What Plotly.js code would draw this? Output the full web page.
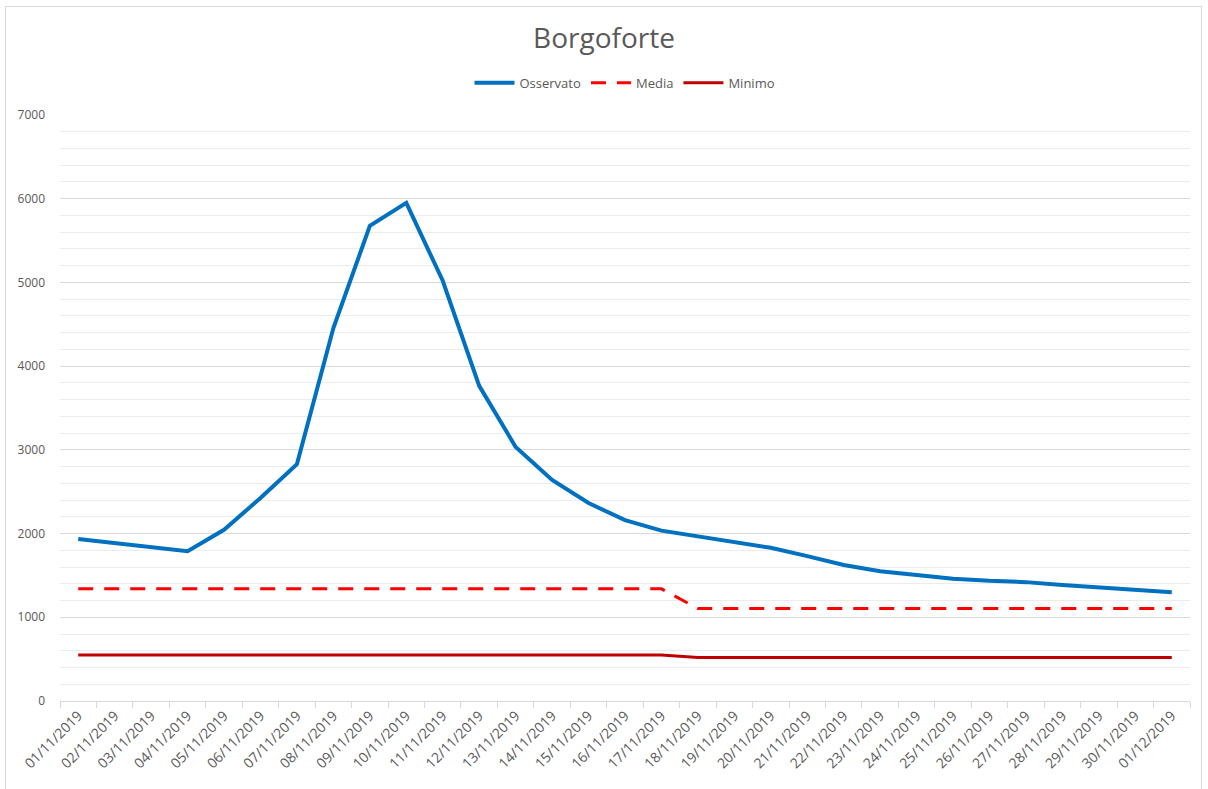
<!DOCTYPE html>
<html><head><meta charset="utf-8">
<script src="https://cdn.plot.ly/plotly-3.0.1.min.js"></script>
<style>
html,body{margin:0;padding:0;background:#fff;}
#wrap{position:relative;width:1208px;height:789px;overflow:hidden;}
#frame{position:absolute;left:5px;top:6px;width:1197px;height:800px;border:1px solid #d9d9d9;box-sizing:border-box;}
#chart{position:absolute;left:0;top:0;width:1208px;height:789px;}
</style></head>
<body><div id="wrap"><div id="frame"></div><div id="chart"></div></div>
<script>
const dates = ["01/11/2019","02/11/2019","03/11/2019","04/11/2019","05/11/2019","06/11/2019","07/11/2019","08/11/2019","09/11/2019","10/11/2019","11/11/2019","12/11/2019","13/11/2019","14/11/2019","15/11/2019","16/11/2019","17/11/2019","18/11/2019","19/11/2019","20/11/2019","21/11/2019","22/11/2019","23/11/2019","24/11/2019","25/11/2019","26/11/2019","27/11/2019","28/11/2019","29/11/2019","30/11/2019","01/12/2019"];
const osservato = [1935,1885,1830,1790,2045,2425,2830,4455,5675,5950,5020,3765,3035,2640,2365,2160,2035,1970,1895,1830,1730,1625,1550,1505,1460,1435,1420,1385,1355,1325,1300];
const media = [1340,1340,1340,1340,1340,1340,1340,1340,1340,1340,1340,1340,1340,1340,1340,1340,1340,1105,1105,1105,1105,1105,1105,1105,1105,1105,1105,1105,1105,1105,1105];
const minimo = [550,550,550,550,550,550,550,550,550,550,550,550,550,550,550,550,550,520,520,520,520,520,520,520,520,520,520,520,520,520,520];

const traces = [
  {x: dates, y: osservato, name: "Osservato", type: "scatter", mode: "lines", line: {color: "#0070C0", width: 4}},
  {x: dates, y: media, name: "Media", type: "scatter", mode: "lines", line: {color: "#FF0000", width: 3, dash: "15px,11px"}},
  {x: dates, y: minimo, name: "Minimo", type: "scatter", mode: "lines", line: {color: "#C00000", width: 3}}
];
const layout = {
  width: 1208, height: 789,
  paper_bgcolor: "rgba(0,0,0,0)", plot_bgcolor: "rgba(0,0,0,0)",
  margin: {l: 60, r: 18, t: 115, b: 88},
  font: {family: "Open Sans, sans-serif", color: "#595959", size: 12},
  title: {text: "Borgoforte", x: 0.5, xanchor: "center", y: 0.952, yanchor: "middle", font: {size: 28, color: "#595959"}},
  showlegend: true,
  legend: {orientation: "h", x: 0.5, xanchor: "center", y: 1.055, yanchor: "middle", font: {size: 13, color: "#595959"}, traceorder: "normal", itemwidth: 40},
  xaxis: {type: "category", tickangle: -45, tickson: "boundaries", ticks: "outside", ticklen: 6, tickcolor: "#d9d9d9",
          showline: true, linecolor: "#d9d9d9", linewidth: 1, showgrid: false, zeroline: false,
          tickfont: {size: 14, color: "#595959"}, range: [-0.5, 30.5]},
  yaxis: {range: [0, 7000], dtick: 1000, tick0: 0, showgrid: true, gridcolor: "#d9d9d9", gridwidth: 1,
          zeroline: false, showline: false, ticks: "", ticklabelstandoff: 14,
          tickfont: {size: 12, color: "#595959"},
          minor: {dtick: 200, showgrid: true, gridcolor: "#ececec", gridwidth: 1}}
};
Plotly.newPlot("chart", traces, layout, {displayModeBar: false, staticPlot: true});
</script></body></html>
